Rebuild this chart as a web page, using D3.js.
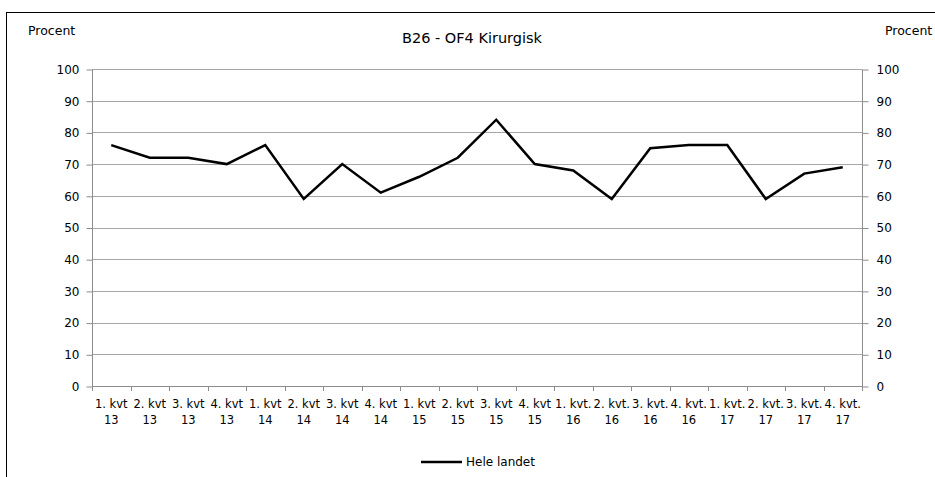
<!DOCTYPE html>
<html>
<head>
<meta charset="utf-8">
<script src="https://cdn.jsdelivr.net/npm/d3@7"></script>
<style>
  body { margin: 0; background: #fff; }
  svg { display: block; }
  text { font-family: "DejaVu Sans", Verdana, sans-serif; fill: #000; }
</style>
</head>
<body>
<svg id="chart" width="935" height="477"></svg>
<script>
// quarter labels (two lines) and values
var quarters = ["1. kvt", "2. kvt", "3. kvt", "4. kvt",
                "1. kvt", "2. kvt", "3. kvt", "4. kvt",
                "1. kvt", "2. kvt", "3. kvt", "4. kvt",
                "1. kvt.", "2. kvt.", "3. kvt.", "4. kvt.",
                "1. kvt.", "2. kvt.", "3. kvt.", "4. kvt."];
var years = ["13", "13", "13", "13", "14", "14", "14", "14",
             "15", "15", "15", "15", "16", "16", "16", "16",
             "17", "17", "17", "17"];
var heleLandet = [76, 72, 72, 70, 76, 59, 70, 61, 66, 72,
                  84, 70, 68, 59, 75, 76, 76, 59, 67, 69];
var yTicks = [0, 10, 20, 30, 40, 50, 60, 70, 80, 90, 100];

var svg = d3.select("#chart");
var plotLeft = 92, plotRight = 862, plotTop = 69, plotBottom = 386;

// outer frame
svg.append("rect")
    .attr("x", 6.5).attr("y", 12.5)
    .attr("width", 940).attr("height", 480)
    .attr("fill", "none")
    .attr("stroke", "#000")
    .attr("stroke-width", 1);

var ids = d3.range(heleLandet.length);

var x = d3.scaleBand()
    .domain(ids)
    .range([plotLeft, plotRight]);

var y = d3.scaleLinear()
    .domain([0, 100])
    .range([plotBottom, plotTop]);

// gridlines
svg.append("g")
    .selectAll("line")
    .data(yTicks.filter(d => d > 0))
    .enter().append("line")
    .attr("x1", plotLeft).attr("x2", plotRight)
    .attr("y1", d => Math.round(y(d)) + 0.5)
    .attr("y2", d => Math.round(y(d)) + 0.5)
    .attr("stroke", "#a6a6a6")
    .attr("stroke-width", 1);

// left axis
var yLeft = svg.append("g")
    .attr("transform", "translate(" + (plotLeft + 0.5) + ",0.5)")
    .call(d3.axisLeft(y).tickValues(yTicks).tickSize(6).tickPadding(8));

// right axis
var yRight = svg.append("g")
    .attr("transform", "translate(" + (plotRight + 0.5) + ",0.5)")
    .call(d3.axisRight(y).tickValues(yTicks).tickSize(6).tickPadding(8));

[yLeft, yRight].forEach(function (g) {
    g.selectAll("path, line").attr("stroke", "#8c8c8c");
    g.select(".domain").attr("d", "M0," + y(100) + "V" + y(0));
    g.selectAll("text").attr("font-size", 12).attr("font-family", "DejaVu Sans");
});
yLeft.selectAll("text").attr("x", -13);

// x axis baseline with ticks at category boundaries
var xAxis = svg.append("g");
xAxis.append("line")
    .attr("x1", plotLeft).attr("x2", plotRight)
    .attr("y1", plotBottom + 0.5).attr("y2", plotBottom + 0.5)
    .attr("stroke", "#8c8c8c");
xAxis.selectAll("line.tick")
    .data(ids.concat([ids.length]))
    .enter().append("line")
    .attr("class", "tick")
    .attr("x1", d => Math.round(d < ids.length ? x(d) : plotRight) + 0.5)
    .attr("x2", d => Math.round(d < ids.length ? x(d) : plotRight) + 0.5)
    .attr("y1", plotBottom).attr("y2", plotBottom + 5)
    .attr("stroke", "#8c8c8c");

var labels = xAxis.selectAll("text")
    .data(ids)
    .enter().append("text")
    .attr("text-anchor", "middle")
    .attr("font-size", 11.5)
    .attr("x", d => x(d) + x.bandwidth() / 2);
labels.append("tspan")
    .attr("x", d => x(d) + x.bandwidth() / 2)
    .attr("y", 408)
    .text(d => quarters[d]);
labels.append("tspan")
    .attr("x", d => x(d) + x.bandwidth() / 2)
    .attr("y", 424)
    .text(d => years[d]);

// the line
var line = d3.line()
    .x((d, i) => x(i) + x.bandwidth() / 2)
    .y(d => y(d));

svg.append("path")
    .datum(heleLandet)
    .attr("d", line)
    .attr("fill", "none")
    .attr("stroke", "#000")
    .attr("stroke-width", 2.5)
    .attr("stroke-linejoin", "miter");

// titles
svg.append("text")
    .attr("x", 472).attr("y", 43)
    .attr("text-anchor", "middle")
    .attr("font-family", "Open Sans")
    .attr("font-size", 14.5)
    .text("B26 - OF4 Kirurgisk");

svg.append("text")
    .attr("x", 28).attr("y", 35)
    .attr("font-size", 12.5)
    .text("Procent");

svg.append("text")
    .attr("x", 885).attr("y", 35)
    .attr("font-size", 12.5)
    .text("Procent");

// legend
svg.append("line")
    .attr("x1", 421).attr("x2", 462)
    .attr("y1", 462).attr("y2", 462)
    .attr("stroke", "#000")
    .attr("stroke-width", 2.5);
svg.append("text")
    .attr("x", 466).attr("y", 466)
    .attr("font-size", 12)
    .text("Hele landet");
</script>
</body>
</html>
